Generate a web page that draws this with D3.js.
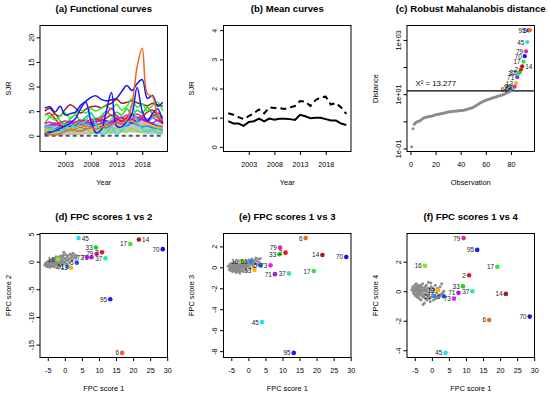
<!DOCTYPE html>
<html>
<head>
<meta charset="utf-8">
<script src="https://cdnjs.cloudflare.com/ajax/libs/d3/7.8.5/d3.min.js"></script>
<style>
body { margin: 0; background: #fff; }
svg { font-family: "Liberation Sans", Arial, sans-serif; }
.title { font-size: 9.6px; font-weight: bold; text-anchor: middle; }
.lab { font-size: 7.4px; text-anchor: middle; }
.axis text { font-size: 7.2px; fill: #000; }
.axis line { stroke: #000; }
.ptlab { font-size: 6.4px; fill: #222; }
</style>
</head>
<body>
<div id="vis"></div>
<script>
// Years of the SJR curves
var years = [1999, 2000, 2001, 2002, 2003, 2004, 2005, 2006, 2007, 2008, 2009, 2010,
             2011, 2012, 2013, 2014, 2015, 2016, 2017, 2018, 2019, 2020, 2021, 2022];

// Outlying journals, in order of robust distance
var outId  = [61, 5, 16, 73, 13, 71, 37, 33, 2, 14, 17, 70, 79, 45, 95, 6];
var outCol = ['#1e8ce6', '#1e50f0', '#8ce61e', '#e61ee6', '#ffb300', '#9a1ee6', '#2ee8a8', '#19d219',
              '#f01414', '#a01e1e', '#33e633', '#1414e6', '#ee1fa0', '#22e0f0', '#1a1aff', '#f26522'];
var outDist = [15.5, 16.6, 17.4, 19.1, 25.7, 42.7, 56.2, 64.6, 81.3, 107, 158, 251, 380, 832, 2240, 2290];
var outPC1 = [0.8, 3.5, -2.0, 6.5, 1.8, 7.8, 11.9, 9.1, 10.9, 21.7, 19.2, 28.7, 9.3, 4.0, 13.3, 16.8];
var outPC2 = [-0.9, -0.18, 0.44, 0.8, -1.1, 0.8, 0.6, 2.55, 1.7, 4.0, 3.2, 2.26, 1.4, 4.26, -6.8, -16.5];
var outPC3 = [0.54, 0.19, 0.6, 0.19, -0.26, -0.65, -0.58, 1.25, 1.4, 1.18, -0.36, 0.99, 1.88, -5.23, -8.17, 2.79];
var outPC4 = [-0.34, -0.34, 1.72, -0.5, 0.07, -0.11, 0.0, 0.34, 1.08, -0.18, 1.66, -1.72, 3.6, -4.18, 2.8, -1.95];

// SJR curves of the outlying journals (same order as outId)
var outSJR = [
  [1.2,0.9,1.4,1.8,1.2,1.0,1.5,1.8,1.4,2.0,2.4,1.8,1.6,2.2,2.8,2.4,2.0,2.6,2.2,1.8,2.0,1.6,1.4,1.2],
  [0.4,0.8,1.2,1.0,1.5,2.0,1.8,2.2,2.6,2.4,2.0,2.5,3.0,2.8,3.2,3.6,3.0,2.6,3.2,3.4,2.8,2.4,2.0,1.8],
  [0.8,1.2,0.6,0.9,1.4,1.0,0.7,1.2,1.8,0.6,0.9,1.5,1.2,0.8,1.6,1.0,0.7,1.4,1.0,0.8,1.2,0.9,1.3,0.6],
  [2.0,1.8,2.4,2.0,1.6,2.2,2.8,2.4,2.0,2.6,3.2,2.8,2.4,3.0,3.6,2.8,3.4,3.0,3.8,3.2,2.8,3.6,3.0,2.6],
  [1.0,1.3,1.1,1.5,1.8,1.4,1.6,2.0,1.7,1.5,1.9,2.2,2.0,2.4,2.6,2.2,2.8,3.0,2.5,2.2,2.6,2.0,1.8,1.6],
  [1.6,2.2,2.6,2.0,2.5,3.0,2.2,2.8,3.2,2.5,2.8,3.4,3.0,2.6,3.2,3.8,3.0,3.4,2.8,3.4,3.0,2.6,3.2,2.8],
  [1.8,1.4,2.0,2.6,2.0,1.6,2.4,3.0,2.2,2.8,3.6,3.0,2.6,3.4,4.2,3.2,3.6,4.0,3.4,3.8,3.2,3.6,4.2,3.4],
  [2.5,3.8,4.4,3.0,2.4,3.5,4.2,3.0,3.8,4.5,3.4,4.0,5.0,4.0,4.8,4.2,5.5,4.0,5.2,4.6,5.8,4.4,3.6,3.8],
  [4.2,4.6,3.5,2.2,1.8,2.4,2.0,2.8,3.0,2.6,3.4,3.0,3.6,4.2,3.5,3.0,3.8,4.4,3.6,4.0,4.8,5.2,4.0,2.4],
  [5.0,5.6,4.4,4.0,5.4,6.3,5.6,4.6,5.4,5.9,6.0,5.7,6.2,6.6,7.4,6.6,6.8,7.1,6.7,6.4,6.1,6.6,6.3,6.0],
  [4.4,4.0,3.2,4.0,4.6,3.6,4.4,5.2,4.6,5.5,5.0,5.6,6.0,5.4,6.4,5.2,6.0,7.5,5.8,6.5,5.0,6.2,6.8,5.0],
  [5.6,5.9,4.8,6.0,4.2,4.5,4.8,6.2,7.0,7.8,8.1,7.4,7.1,7.3,7.6,9.0,10.2,9.2,10.6,11.4,7.6,8.2,6.0,6.8],
  [2.4,2.8,2.2,2.6,3.0,2.5,2.8,3.2,2.6,3.4,3.0,3.6,4.4,5.6,4.0,3.6,4.2,3.5,4.4,3.8,3.4,4.0,4.6,3.8],
  [1.5,2.0,1.2,0.8,1.6,2.4,1.8,2.6,3.0,4.8,2.2,0.4,0.5,1.8,0.3,1.0,2.5,6.4,3.0,1.4,0.8,1.2,0.6,0.7],
  [0.2,0.6,1.0,1.5,2.0,2.6,3.5,5.5,6.8,3.0,0.6,1.2,5.0,8.8,2.0,1.8,3.0,4.5,9.8,5.0,3.0,4.5,5.5,2.5],
  [0.6,0.3,0.2,0.4,0.9,1.3,1.1,0.9,1.3,1.6,1.4,1.7,2.1,2.3,2.6,2.4,3.2,6.5,14.0,17.8,8.5,8.0,4.2,3.0]
];

// SJR curves of some regular journals
var graySJR = [
  [0.3,0.4,0.5,0.4,0.6,0.7,0.6,0.8,0.9,0.8,1.0,1.1,1.0,1.2,1.4,1.3,1.5,1.6,1.4,1.3,1.2,1.1,1.0,0.9],
  [0.8,0.9,1.0,1.1,1.0,1.2,1.3,1.2,1.4,1.5,1.6,1.5,1.7,1.9,2.2,2.4,2.6,2.5,2.3,2.0,1.9,1.8,1.6,1.5],
  [1.2,1.4,1.3,1.5,1.6,1.4,1.7,1.9,1.8,2.0,2.1,2.2,2.4,2.6,2.9,3.0,3.2,3.0,2.8,2.5,2.4,2.2,2.0,1.9],
  [0.5,0.6,0.8,0.7,0.9,1.0,1.1,1.0,1.2,1.3,1.2,1.4,1.5,1.6,1.8,2.0,2.1,1.9,1.8,1.7,1.5,1.4,1.3,1.2],
  [1.5,1.6,1.4,1.3,1.5,1.7,1.6,1.8,2.0,1.9,2.2,2.4,2.3,2.5,2.7,2.8,3.0,2.9,2.6,2.4,2.2,2.1,1.9,1.7],
  [0.2,0.3,0.2,0.4,0.5,0.4,0.6,0.5,0.7,0.8,0.7,0.9,1.0,0.9,1.1,1.2,1.3,1.1,1.0,0.9,0.8,0.8,0.7,0.6],
  [1.0,1.1,1.2,1.0,1.3,1.5,1.4,1.6,1.7,1.8,1.7,1.9,2.0,2.2,2.5,2.6,2.8,2.7,2.4,2.2,2.0,1.9,1.7,1.6],
  [0.6,0.5,0.7,0.9,0.8,1.0,0.9,1.1,1.3,1.2,1.4,1.3,1.5,1.7,1.9,2.1,2.3,2.2,2.0,1.8,1.6,1.5,1.4,1.3],
  [1.8,1.7,1.9,2.0,1.8,2.1,2.2,2.0,2.3,2.4,2.5,2.3,2.6,2.8,3.0,3.1,3.3,3.1,2.9,2.7,2.5,2.4,2.2,2.1],
  [0.4,0.5,0.6,0.6,0.7,0.8,0.9,0.8,1.0,1.1,1.1,1.2,1.3,1.4,1.6,1.7,1.8,1.7,1.5,1.4,1.3,1.2,1.1,1.0],
  [1.3,1.2,1.1,1.3,1.4,1.3,1.5,1.6,1.5,1.7,1.9,1.8,2.0,2.1,2.3,2.5,2.7,2.6,2.4,2.1,2.0,1.9,1.8,1.7],
  [0.9,1.0,0.9,1.0,1.2,1.1,1.2,1.4,1.3,1.4,1.5,1.6,1.8,1.7,2.0,2.2,2.3,2.1,2.0,1.8,1.7,1.6,1.5,1.4],
  [0.1,0.2,0.3,0.2,0.3,0.4,0.3,0.4,0.5,0.5,0.6,0.5,0.7,0.6,0.8,0.9,1.0,0.9,0.8,0.7,0.6,0.6,0.5,0.4],
  [2.0,2.2,2.1,1.9,2.2,2.4,2.3,2.5,2.6,2.4,2.7,2.8,2.6,2.9,3.1,3.3,3.4,3.2,3.0,2.8,2.7,2.5,2.3,2.2],
  [0.7,0.8,0.7,0.9,1.0,0.9,1.1,1.2,1.1,1.3,1.4,1.3,1.5,1.6,1.7,1.9,2.0,1.9,1.7,1.6,1.5,1.3,1.2,1.1],
  [1.1,1.3,1.5,1.4,1.2,1.4,1.6,1.7,1.5,1.8,1.9,2.0,2.1,2.3,2.4,2.7,2.9,2.8,2.5,2.3,2.1,2.0,1.8,1.6]
];

// Mean curves (panel b)
var meanRobust  = [0.88,0.80,0.80,0.72,0.85,0.88,0.97,0.87,0.97,0.93,0.96,0.96,0.95,0.92,1.10,1.05,0.98,1.00,1.00,0.95,0.90,0.90,0.80,0.75];
var meanClassic = [1.15,1.10,1.02,0.95,1.05,1.15,1.28,1.15,1.35,1.33,1.33,1.30,1.35,1.40,1.57,1.55,1.40,1.60,1.70,1.72,1.45,1.50,1.35,1.13];

// Sorted robust distances of the regular journals
var grayDist = [0.115,0.53,0.78,0.88,0.95,0.98,1.02,1.08,1.2,1.31,
  1.36,1.4,1.44,1.47,1.5,1.53,1.57,1.62,1.66,1.74,
  1.78,1.82,1.86,1.9,1.95,2.0,2.05,2.1,2.15,2.2,
  2.24,2.28,2.3,2.33,2.36,2.38,2.41,2.44,2.46,2.49,
  2.53,2.58,2.63,2.7,2.78,2.86,2.95,3.05,3.15,3.3,
  3.5,3.75,4.0,4.3,4.6,4.9,5.2,5.5,5.75,5.95,
  6.2,6.45,6.7,6.95,7.2,7.45,7.7,7.95,8.2,8.5,
  8.8,9.1,9.4,9.8,10.2,10.8,11.4,12.0,12.7];
var chiCut = 13.277;

// FPC scores of the regular journals
var grayPC1 = [-5.9,-5.6,-5.4,-5.3,-5.2,-5.1,-5.0,-4.9,-4.8,-4.8,
  -4.7,-4.6,-4.5,-4.5,-4.4,-4.3,-4.2,-4.2,-4.1,-4.0,
  -3.9,-3.9,-3.8,-3.7,-3.6,-3.6,-3.5,-3.4,-3.3,-3.2,
  -3.2,-3.1,-3.0,-2.9,-2.8,-2.7,-2.6,-2.5,-2.4,-2.3,
  -2.2,-2.1,-2.0,-1.9,-1.8,-1.7,-1.6,-1.5,-1.4,-1.2,
  -1.1,-1.0,-0.9,-0.8,-0.6,-0.5,-0.4,-0.2,-0.1,0.1,
  0.2,0.4,0.5,0.7,0.9,1.0,1.2,1.4,1.6,1.8,
  2.0,2.2,2.4,2.6,2.9,3.2,3.5,-0.3,-2.6];
var grayPC2 = [-0.6,-0.3,-0.8,-0.1,-0.5,-0.9,-0.2,-0.6,0.1,-0.4,
  -0.7,-0.2,0.2,-0.5,-1.0,-0.3,0.0,-0.6,-0.1,0.3,
  -0.4,-0.8,0.1,-0.2,0.4,-0.6,-0.1,0.2,-0.9,0.0,
  0.5,-0.3,-0.7,0.2,-0.1,0.6,-0.5,0.1,-1.1,0.3,
  -0.2,0.7,0.0,-0.6,0.4,0.9,-0.3,0.2,-0.8,0.5,
  1.0,-0.1,0.3,-0.5,0.8,0.1,1.2,-0.3,0.6,0.0,
  1.3,0.4,-0.4,0.9,0.2,1.1,0.5,-0.2,1.4,0.7,
  1.1,0.3,1.5,0.8,1.2,0.6,1.0,1.7,0.9];
var grayPC3 = [0.1,-0.2,0.3,0.0,-0.3,0.2,-0.1,0.4,0.0,-0.2,
  0.2,-0.4,0.1,0.3,-0.1,0.0,0.5,-0.3,0.2,-0.1,
  0.3,-0.2,0.0,0.4,-0.5,0.1,0.2,-0.3,0.0,0.3,
  -0.1,0.2,-0.4,0.0,0.6,-0.2,0.1,-0.55,0.3,0.0,
  0.2,-0.3,0.4,0.1,-0.1,0.5,0.0,-0.4,0.3,0.2,
  0.4,-0.2,0.1,0.6,0.0,0.3,-0.3,0.5,0.2,0.7,
  0.1,0.4,-0.1,0.6,0.3,0.8,0.2,0.5,0.0,0.7,
  0.4,0.9,0.6,0.3,0.8,0.5,0.85,0.2,-0.4];
var grayPC4 = [0.1,0.3,-0.1,0.2,0.0,-0.2,0.4,0.1,-0.3,0.2,
  0.0,0.5,-0.2,0.1,0.3,-0.4,0.2,0.0,-0.1,0.4,
  -0.3,0.1,0.2,-0.5,0.3,0.0,-0.2,0.4,0.1,-0.6,
  0.2,-0.1,0.3,-0.3,0.0,0.5,-0.4,0.1,-0.2,0.2,
  -0.8,0.0,0.3,-0.5,0.1,-0.2,0.4,-0.6,0.0,0.2,
  -0.3,0.6,-0.1,-0.5,0.2,-0.7,0.1,0.3,-0.4,0.0,
  -0.2,0.2,-0.6,0.1,-0.3,0.4,-0.5,-0.1,0.2,-0.4,
  0.1,-0.3,0.3,-0.2,0.5,-0.1,0.0,0.55,-0.9];

// Tick labels
var yearTicks = [2003, 2008, 2013, 2018];
var sjrTicks = [0, 5, 10, 15, 20];
var meanTicks = [0, 1, 2, 3, 4];
var obsTicks = [0, 20, 40, 60, 80];
var distTicks = [0.1, 1, 10, 100, 1000];
var pc1Ticks = [-5, 0, 5, 10, 15, 20, 25, 30];
var pc2Ticks = [-15, -10, -5, 0, 5];
var pc3Ticks = [-8, -6, -4, -2, 0, 2];
var pc4Ticks = [-4, -2, 0, 2];

var svg = d3.select('#vis').append('svg')
    .attr('width', 550)
    .attr('height', 396);

var panelLeft = [40, 223.5, 407];
var boxW = 127.5;
var rowBox = [[25.5, 151.5], [233.5, 357.5]];

// R style range: data range stretched by 4% on each side
function rRange(vals) {
    var e = d3.extent(vals);
    var d = (e[1] - e[0]) * 0.04;
    return [e[0] - d, e[1] + d];
}

function rNum(d) { return String(d); }

var clipN = 0;
function panel(col, row, title, xlab, ylab) {
    var p = { x0: panelLeft[col], y0: rowBox[row][0], y1: rowBox[row][1] };
    p.x1 = p.x0 + boxW;
    p.g = svg.append('g');
    p.g.append('text').attr('class', 'title')
        .attr('x', (p.x0 + p.x1) / 2).attr('y', p.y0 - 17)
        .attr('dominant-baseline', 'central').text(title);
    p.g.append('text').attr('class', 'lab')
        .attr('x', (p.x0 + p.x1) / 2).attr('y', p.y1 + 30.8)
        .attr('dominant-baseline', 'central').text(xlab);
    p.g.append('text').attr('class', 'lab')
        .attr('transform', 'translate(' + (p.x0 - 32) + ',' + ((p.y0 + p.y1) / 2) + ') rotate(-90)')
        .attr('dominant-baseline', 'central').text(ylab);
    clipN++;
    p.clip = 'clip' + clipN;
    svg.append('clipPath').attr('id', p.clip).append('rect')
        .attr('x', p.x0).attr('y', p.y0).attr('width', boxW).attr('height', p.y1 - p.y0);
    p.plot = p.g.append('g').attr('clip-path', 'url(#' + p.clip + ')');
    return p;
}

function box(p) {
    p.g.append('rect').attr('x', p.x0).attr('y', p.y0)
        .attr('width', boxW).attr('height', p.y1 - p.y0)
        .attr('fill', 'none').attr('stroke', '#000').attr('stroke-width', 1);
}

function xAxis(p, scale, ticks) {
    var ax = p.g.append('g').attr('class', 'axis')
        .attr('transform', 'translate(0,' + p.y1 + ')')
        .call(d3.axisBottom(scale).tickValues(ticks).tickSize(3.5).tickFormat(rNum));
    ax.select('.domain').remove();
    ax.selectAll('text').attr('y', 12.6).attr('dy', null).attr('dominant-baseline', 'central');
}

function yAxis(p, scale, ticks, fmt) {
    var ax = p.g.append('g').attr('class', 'axis')
        .attr('transform', 'translate(' + p.x0 + ',0)')
        .call(d3.axisLeft(scale).tickValues(ticks).tickSize(3.5).tickFormat(fmt || rNum));
    ax.select('.domain').remove();
    ax.selectAll('text').attr('transform', 'rotate(-90)')
        .attr('x', 0).attr('y', -8.6).attr('dy', null)
        .attr('text-anchor', 'middle').attr('dominant-baseline', 'central');
}

// ---------- (a) Functional curves ----------
var pa = panel(0, 0, '(a) Functional curves', 'Year', 'SJR');
var xYear = d3.scaleLinear().domain(rRange(years)).range([pa.x0, pa.x1]);
var ySjr = d3.scaleLinear().domain([-3.2, 22.4]).range([pa.y1, pa.y0]);
var sjrLine = d3.line()
    .x(function(d, i) { return xYear(years[i]); })
    .y(function(d) { return ySjr(d); })
    .curve(d3.curveCatmullRom.alpha(0.5));

pa.plot.selectAll('path.gray').data(graySJR).enter().append('path')
    .attr('class', 'gray').attr('d', sjrLine)
    .attr('fill', 'none').attr('stroke', '#c4c4c4').attr('stroke-width', 2.2);

pa.plot.append('path').datum(years.map(function() { return 0; }))
    .attr('d', sjrLine).attr('fill', 'none')
    .attr('stroke', '#555').attr('stroke-width', 2).attr('stroke-dasharray', '4,3');

pa.plot.selectAll('path.out').data(outSJR).enter().append('path')
    .attr('class', 'out').attr('d', sjrLine)
    .attr('fill', 'none').attr('stroke-width', 1.5)
    .attr('stroke', function(d, i) { return outCol[i]; });

xAxis(pa, xYear, yearTicks);
yAxis(pa, ySjr, sjrTicks);
box(pa);

// ---------- (b) Mean curves ----------
var pb = panel(1, 0, '(b) Mean curves', 'Year', 'SJR');
var xYearB = d3.scaleLinear().domain(rRange(years)).range([pb.x0, pb.x1]);
var yMean = d3.scaleLinear().domain(rRange([0, 4])).range([pb.y1, pb.y0]);
var meanLine = d3.line()
    .x(function(d, i) { return xYearB(years[i]); })
    .y(function(d) { return yMean(d); });
pb.plot.append('path').datum(meanRobust).attr('d', meanLine)
    .attr('fill', 'none').attr('stroke', '#000').attr('stroke-width', 2);
pb.plot.append('path').datum(meanClassic).attr('d', meanLine)
    .attr('fill', 'none').attr('stroke', '#000').attr('stroke-width', 2)
    .attr('stroke-dasharray', '6,4');
xAxis(pb, xYearB, yearTicks);
yAxis(pb, yMean, meanTicks);
box(pb);

// ---------- (c) Robust Mahalanobis distance ----------
var pc = panel(2, 0, '(c) Robust Mahalanobis distance', 'Observation', 'Distance');
var allDist = grayDist.concat(outDist);
var xObs = d3.scaleLinear().domain(rRange([1, allDist.length])).range([pc.x0, pc.x1]);
var lg = rRange(allDist.map(Math.log10));
var yDist = d3.scaleLog().domain([Math.pow(10, lg[0]), Math.pow(10, lg[1])]).range([pc.y1, pc.y0]);

pc.plot.append('line')
    .attr('x1', pc.x0).attr('x2', pc.x1)
    .attr('y1', yDist(chiCut)).attr('y2', yDist(chiCut))
    .attr('stroke', '#000').attr('stroke-width', 1.1);
pc.g.append('text')
    .attr('x', pc.x0 + 8.5).attr('y', yDist(chiCut) - 7.5)
    .attr('dominant-baseline', 'central')
    .style('font-size', '7.8px').style('text-anchor', 'start')
    .text('X² = ' + chiCut);

pc.plot.selectAll('circle.gray').data(grayDist).enter().append('circle')
    .attr('class', 'gray')
    .attr('cx', function(d, i) { return xObs(i + 1); })
    .attr('cy', function(d) { return yDist(d); })
    .attr('r', 1.5).attr('fill', '#8c8c8c');

var nGray = grayDist.length;
pc.g.selectAll('text.pl').data(outDist).enter().append('text')
    .attr('class', 'ptlab')
    .attr('x', function(d, i) { return xObs(nGray + i + 1) + (outId[i] === 14 ? 3 : -3); })
    .attr('y', function(d) { return yDist(d); })
    .attr('text-anchor', function(d, i) { return outId[i] === 14 ? 'start' : 'end'; })
    .attr('dominant-baseline', 'central')
    .text(function(d, i) { return outId[i]; });
pc.plot.selectAll('circle.out').data(outDist).enter().append('circle')
    .attr('cx', function(d, i) { return xObs(nGray + i + 1); })
    .attr('cy', function(d) { return yDist(d); })
    .attr('r', 2.1)
    .attr('fill', function(d, i) { return outCol[i]; });

xAxis(pc, xObs, obsTicks);
yAxis(pc, yDist, distTicks, function(d) {
    var e = Math.round(Math.log10(d));
    if (Math.abs(e) % 2 === 0) return '';
    return '1e' + (e < 0 ? '-' : '+') + ('0' + Math.abs(e));
});
box(pc);

// ---------- (d)-(f) FPC score plots ----------
var pc1All = grayPC1.concat(outPC1);

function scorePlot(col, title, ylab, grayY, outY, yTicks, rightLabels) {
    var p = panel(col, 1, title, 'FPC score 1', ylab);
    var x = d3.scaleLinear().domain(rRange(pc1All)).range([p.x0, p.x1]);
    var y = d3.scaleLinear().domain(rRange(grayY.concat(outY))).range([p.y1, p.y0]);

    p.plot.selectAll('circle.gray').data(grayPC1).enter().append('circle')
        .attr('cx', function(d) { return x(d); })
        .attr('cy', function(d, i) { return y(grayY[i]); })
        .attr('r', 1.5).attr('fill', '#8c8c8c');

    p.g.selectAll('text.pl').data(outPC1).enter().append('text')
        .attr('class', 'ptlab')
        .attr('x', function(d, i) { return x(d) + (rightLabels.indexOf(outId[i]) >= 0 ? 3.2 : -3.2); })
        .attr('y', function(d, i) { return y(outY[i]); })
        .attr('text-anchor', function(d, i) { return rightLabels.indexOf(outId[i]) >= 0 ? 'start' : 'end'; })
        .attr('dominant-baseline', 'central')
        .text(function(d, i) { return outId[i]; });

    p.plot.selectAll('circle.out').data(outPC1).enter().append('circle')
        .attr('cx', function(d) { return x(d); })
        .attr('cy', function(d, i) { return y(outY[i]); })
        .attr('r', 2.3)
        .attr('fill', function(d, i) { return outCol[i]; });

    xAxis(p, x, pc1Ticks);
    yAxis(p, y, yTicks);
    box(p);
}

scorePlot(0, '(d) FPC scores 1 vs 2', 'FPC score 2', grayPC2, outPC2, pc2Ticks, [45, 14]);
scorePlot(1, '(e) FPC scores 1 vs 3', 'FPC score 3', grayPC3, outPC3, pc3Ticks, []);
scorePlot(2, '(f) FPC scores 1 vs 4', 'FPC score 4', grayPC4, outPC4, pc4Ticks, []);
</script>
</body>
</html>
